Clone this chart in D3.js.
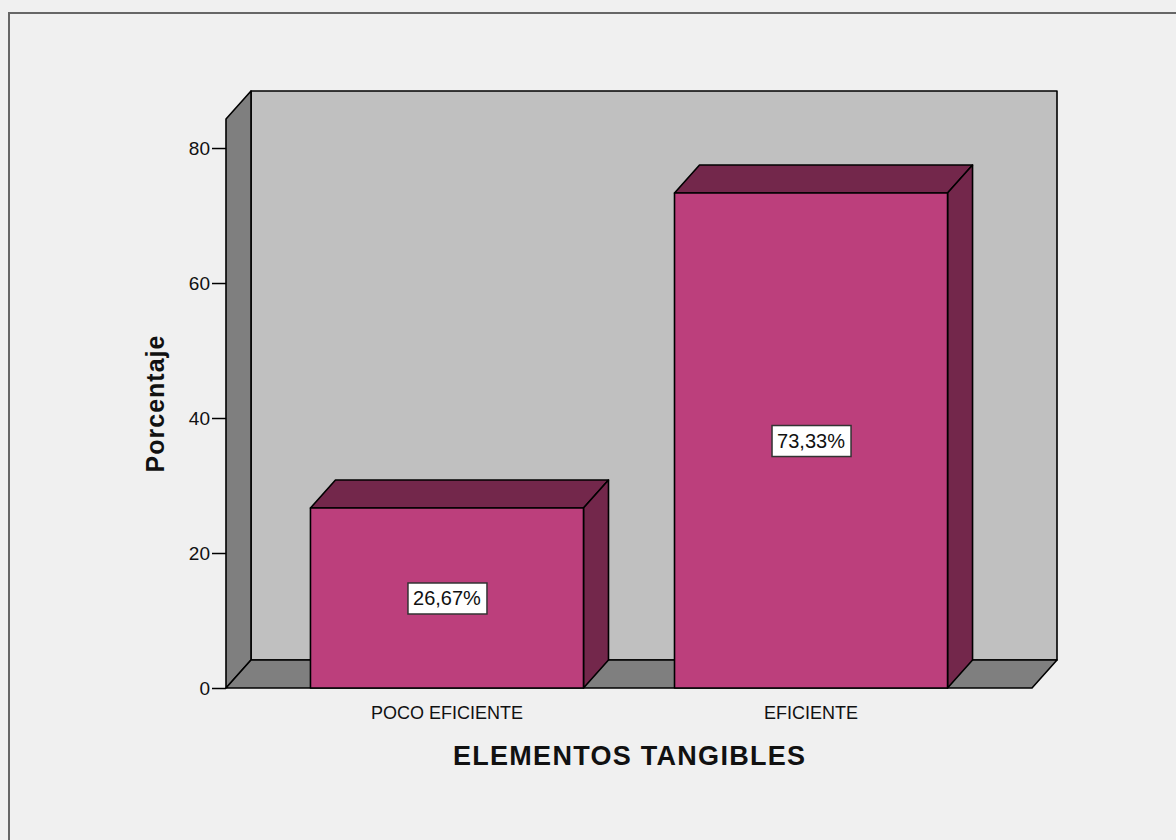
<!DOCTYPE html>
<html>
<head>
<meta charset="utf-8">
<script src="https://cdn.jsdelivr.net/npm/d3@7"></script>
<style>
  html, body { margin: 0; padding: 0; background: #f0f0f0; }
  svg { display: block; font-family: "Liberation Sans", Arial, sans-serif; }
</style>
</head>
<body>
<svg id="chart" width="1176" height="840"></svg>
<script>
// Percentage of respondents per rating of the tangible elements
const categories = ["POCO EFICIENTE", "EFICIENTE"];
const percentages = [26.67, 73.33];
const valueLabels = ["26,67%", "73,33%"];
const tickValues = [0, 20, 40, 60, 80];
const xTitle = "ELEMENTOS TANGIBLES";
const yTitle = "Porcentaje";

(function draw() {
  const W = 1176, H = 840;
  const svg = d3.select("#chart");

  // Plot frame (front plane) and 3D depth offset
  const pLeft = 226, pRight = 1032, pBottom = 688, pTop = 119;
  const dx = 25, dy = 28;
  const yMax = 84.3;

  const y = d3.scaleLinear().domain([0, yMax]).range([pBottom, pTop]);
  const x = d3.scaleBand().domain(categories).range([pLeft, pRight])
    .paddingInner(0.25).paddingOuter(0.232);

  // Outer border
  svg.append("rect").attr("x", 9).attr("y", 13).attr("width", W + 10).attr("height", H + 10)
    .attr("fill", "#f0f0f0").attr("stroke", "#666").attr("stroke-width", 2);

  const pts = a => a.map(p => p.join(",")).join(" ");
  const stroke = sel => sel.attr("stroke", "#000").attr("stroke-width", 1.6).attr("stroke-linejoin", "round");

  // Back wall
  svg.append("rect")
    .attr("x", pLeft + dx).attr("y", y(yMax) - dy)
    .attr("width", pRight - pLeft).attr("height", y(0) - y(yMax))
    .attr("fill", "#c0c0c0").call(stroke);

  // Left side wall
  svg.append("polygon")
    .attr("points", pts([[pLeft, y(yMax)], [pLeft + dx, y(yMax) - dy], [pLeft + dx, y(0) - dy], [pLeft, y(0)]]))
    .attr("fill", "#7f7f7f").call(stroke);

  // Floor
  svg.append("polygon")
    .attr("points", pts([[pLeft, y(0)], [pLeft + dx, y(0) - dy], [pRight + dx, y(0) - dy], [pRight, y(0)]]))
    .attr("fill", "#7f7f7f").call(stroke);

  // Bars
  const bars = svg.append("g").selectAll("g")
    .data(categories.map((c, i) => ({ c, v: percentages[i], label: valueLabels[i] })))
    .join("g");

  bars.append("polygon") // top face
    .attr("points", d => {
      const x0 = x(d.c), x1 = x(d.c) + x.bandwidth(), yv = y(d.v);
      return pts([[x0, yv], [x0 + dx, yv - dy], [x1 + dx, yv - dy], [x1, yv]]);
    })
    .attr("fill", "#73274b").call(stroke);

  bars.append("polygon") // side face
    .attr("points", d => {
      const x1 = x(d.c) + x.bandwidth(), yv = y(d.v);
      return pts([[x1, yv], [x1 + dx, yv - dy], [x1 + dx, y(0) - dy], [x1, y(0)]]);
    })
    .attr("fill", "#73274b").call(stroke);

  bars.append("rect") // front face
    .attr("x", d => x(d.c)).attr("y", d => y(d.v))
    .attr("width", x.bandwidth()).attr("height", d => y(0) - y(d.v))
    .attr("fill", "#bc3f7c").call(stroke);

  // Value labels in boxes at bar mid-height
  const lab = bars.append("g")
    .attr("transform", d => `translate(${x(d.c) + x.bandwidth() / 2},${y(d.v / 2)})`);
  lab.append("rect")
    .attr("x", -39).attr("y", -15).attr("width", 79).attr("height", 31)
    .attr("fill", "#fff").attr("stroke", "#333").attr("stroke-width", 1.5);
  lab.append("text")
    .attr("text-anchor", "middle").attr("dy", "0.36em")
    .attr("font-size", 20).attr("fill", "#111")
    .text(d => d.label);

  // Y axis ticks
  const yAxis = svg.append("g").attr("transform", `translate(${pLeft},0)`)
    .call(d3.axisLeft(y).tickValues(tickValues).tickSize(14).tickPadding(2).tickFormat(d3.format("d")));
  yAxis.select(".domain").remove();
  yAxis.selectAll("line").attr("stroke", "#000").attr("stroke-width", 1.5);
  yAxis.selectAll("text").attr("font-size", 19).attr("fill", "#111")
    .attr("font-family", "Liberation Sans, Arial, sans-serif");

  // X axis category labels
  const xAxis = svg.append("g").attr("transform", `translate(0,${pBottom})`)
    .call(d3.axisBottom(x).tickSize(0).tickPadding(18));
  xAxis.select(".domain").remove();
  xAxis.selectAll("text").attr("font-size", 18).attr("fill", "#111")
    .attr("font-family", "Liberation Sans, Arial, sans-serif");

  // Axis titles
  svg.append("text")
    .attr("x", 629).attr("y", 765)
    .attr("text-anchor", "middle").attr("font-weight", "bold").attr("font-size", 27)
    .attr("textLength", 352).attr("lengthAdjust", "spacing")
    .attr("fill", "#111").text(xTitle);

  svg.append("text")
    .attr("transform", "translate(164,404) rotate(-90)")
    .attr("text-anchor", "middle").attr("font-weight", "bold").attr("font-size", 25)
    .attr("textLength", 137).attr("lengthAdjust", "spacing")
    .attr("fill", "#111").text(yTitle);
})();
</script>
</body>
</html>
